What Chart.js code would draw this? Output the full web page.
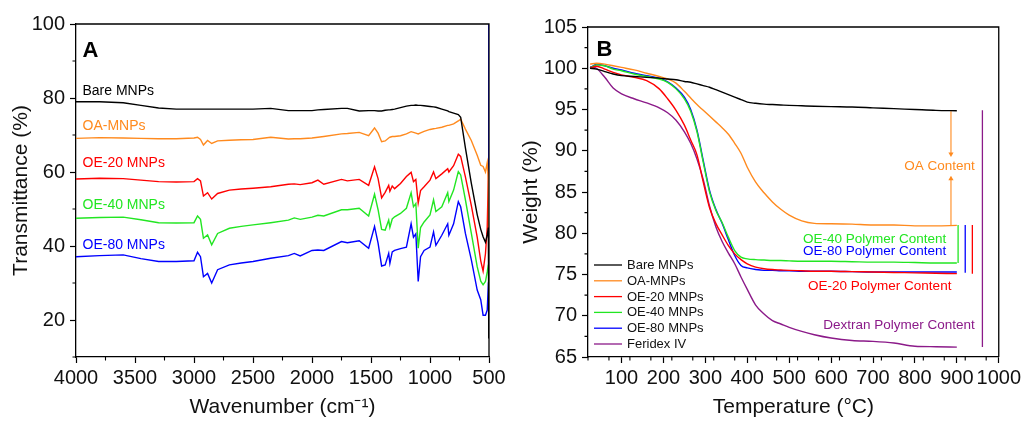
<!DOCTYPE html>
<html>
<head>
<meta charset="utf-8">
<script src="https://cdn.jsdelivr.net/npm/chart.js@4.4.1/dist/chart.umd.min.js"></script>
<style>
  html, body { margin: 0; padding: 0; background: #fff; }
  #wrap { position: relative; width: 1024px; height: 424px; }
  .panel { position: absolute; top: 0; width: 512px; height: 424px; }
</style>
</head>
<body>
<div id="wrap">
  <div class="panel" style="left:0"><canvas id="ftir" width="512" height="424"></canvas></div>
  <div class="panel" style="left:512px"><canvas id="tga" width="512" height="424"></canvas></div>
</div>
<script>
// ---- panel A : FTIR, transmittance (%) vs wavenumber (cm-1) ----
const wavenumbers = [4000, 3800, 3600, 3450, 3300, 3150, 3000, 2970, 2945, 2920, 2885, 2850, 2800, 2700, 2600,
  2500, 2350, 2200, 2150, 2100, 2000, 1950, 1900, 1750, 1700, 1600, 1520, 1470, 1440, 1410, 1380, 1350, 1340,
  1320, 1300, 1250, 1200, 1160, 1140, 1120, 1100, 1080, 1050, 1000, 970, 950, 900, 850, 840, 800, 760, 740,
  700, 650, 600, 570, 550, 530, 515, 505, 502];

const bareFTIR = [79.0, 79.0, 78.7, 78.0, 77.3, 77.0, 77.0, 77.0, 77.0, 77.0, 77.0, 77.0, 77.0, 77.0, 77.0,
  77.0, 77.2, 76.6, 76.6, 76.6, 76.6, 76.8, 76.9, 77.2, 77.2, 76.5, 76.6, 76.6, 76.5, 76.5, 76.7, 76.8, 76.8,
  76.9, 77.0, 77.4, 77.8, 78.0, 78.0, 78.1, 78.0, 78.0, 77.9, 77.7, 77.6, 77.5, 77.0, 76.5, 76.3, 75.9, 75.5, 74.8,
  66.5, 57.0, 48.5, 44.5, 42.5, 41.0, 43.0, 45.0, 15.0];
const oaFTIR = [69.1, 69.3, 69.2, 69.1, 69.0, 69.0, 69.2, 69.4, 68.8, 67.3, 68.5, 67.7, 68.4, 68.6, 68.7,
  68.8, 69.4, 68.9, 69.0, 69.0, 69.2, 69.4, 69.6, 70.3, 70.4, 70.7, 69.8, 71.9, 70.5, 68.2, 68.4, 69.2, 69.4,
  69.6, 69.6, 69.8, 70.3, 70.9, 70.7, 70.5, 70.3, 70.6, 71.0, 71.5, 71.7, 71.8, 72.1, 72.6, 72.6, 73.0, 73.8, 74.3,
  71.6, 68.5, 64.5, 61.8, 61.5, 60.0, 62.5, 58.0, 30.0];
const oe20FTIR = [58.1, 58.3, 58.2, 57.8, 57.4, 57.3, 57.4, 58.2, 57.6, 53.5, 54.4, 52.7, 54.2, 55.1, 55.4,
  55.6, 56.0, 56.7, 56.8, 56.6, 57.1, 57.8, 56.7, 58.0, 57.6, 58.0, 56.4, 61.4, 58.2, 53.0, 54.5, 56.4, 54.8,
  56.2, 55.5, 56.9, 58.8, 59.9, 57.4, 58.0, 51.6, 55.0, 56.0, 57.8, 60.0, 58.2, 59.5, 60.9, 60.0, 61.7, 64.8, 64.2,
  58.7, 51.0, 42.4, 36.0, 33.2, 37.9, 45.0, 60.0, 30.0];
const oe40FTIR = [47.5, 47.7, 47.8, 47.1, 46.3, 46.2, 46.3, 48.1, 47.2, 42.1, 43.0, 40.3, 43.4, 44.8, 45.3,
  45.7, 46.3, 47.0, 47.6, 47.2, 47.8, 48.3, 48.1, 49.8, 49.8, 50.2, 48.1, 54.0, 49.8, 44.5, 44.3, 47.0, 45.0,
  47.3, 47.9, 48.8, 50.2, 54.4, 50.6, 51.5, 39.4, 45.0, 46.5, 48.4, 52.5, 49.3, 50.6, 54.4, 52.0, 55.1, 60.1, 59.2,
  52.5, 43.5, 34.4, 30.5, 29.5, 30.4, 33.0, 35.0, 30.0];
const oe80FTIR = [37.1, 37.4, 37.6, 36.6, 35.8, 35.8, 36.0, 38.3, 37.1, 31.7, 32.6, 30.0, 33.6, 34.9, 35.4,
  35.8, 36.7, 37.4, 38.0, 37.3, 38.8, 38.9, 38.8, 41.2, 40.9, 41.4, 39.4, 45.3, 40.8, 34.6, 34.9, 38.0, 35.3,
  38.4, 38.8, 39.3, 39.7, 46.0, 42.4, 43.3, 30.4, 37.1, 38.8, 39.7, 43.8, 40.2, 42.9, 46.0, 42.9, 46.0, 52.0, 50.6,
  43.4, 36.3, 28.1, 25.5, 21.3, 21.3, 22.7, 30.0, 100.0];

// ---- panel B : TGA, weight (%) vs temperature (C) ----
const temperatures = [25, 40, 60, 80, 100, 130, 160, 190, 210, 230, 250, 265, 280, 295, 310, 325, 340, 355,
  370, 385, 400, 420, 440, 460, 480, 500, 530, 560, 600, 650, 700, 750, 800, 850, 900];

const bareTGA = [100.0, 99.9, 99.6, 99.3, 99.1, 99.0, 98.9, 98.8, 98.7, 98.6, 98.4, 98.3, 98.1, 97.9, 97.7,
  97.4, 97.1, 96.8, 96.5, 96.2, 95.9, 95.75, 95.65, 95.6, 95.55, 95.5, 95.45, 95.4, 95.35, 95.3, 95.2, 95.1,
  95.0, 94.9, 94.85];
const oaTGA = [100.5, 100.6, 100.5, 100.3, 100.1, 99.8, 99.4, 99.0, 98.7, 98.2, 97.2, 96.4, 95.6, 94.9, 94.2,
  93.5, 92.8, 92.0, 90.9, 89.7, 88.0, 86.2, 84.9, 83.8, 82.9, 82.2, 81.5, 81.2, 81.15, 81.1, 81.0, 81.0, 80.9,
  80.9, 80.95];
const oe20TGA = [100.0, 100.25, 99.9, 99.5, 99.2, 98.9, 98.5, 97.5, 96.3, 94.9, 93.1, 91.3, 89.5, 86.2, 83.1,
  81.2, 79.8, 78.5, 77.5, 76.8, 76.3, 75.9, 75.7, 75.6, 75.55, 75.5, 75.45, 75.4, 75.4, 75.35, 75.3, 75.25,
  75.2, 75.15, 75.1];
const oe40TGA = [100.0, 100.4, 100.3, 99.9, 99.7, 99.3, 99.0, 98.7, 98.3, 97.5, 96.3, 94.8, 92.3, 88.6, 85.0,
  82.8, 81.3, 79.5, 77.9, 77.1, 76.9, 76.8, 76.75, 76.7, 76.7, 76.65, 76.6, 76.6, 76.6, 76.55, 76.5, 76.5,
  76.45, 76.4, 76.4];
const oe80TGA = [100.0, 100.5, 100.3, 100.0, 99.8, 99.4, 99.1, 98.8, 98.35, 97.6, 96.5, 95.0, 92.5, 88.8, 85.2,
  82.9, 81.2, 79.2, 77.3, 76.1, 75.8, 75.6, 75.5, 75.5, 75.45, 75.45, 75.4, 75.4, 75.4, 75.35, 75.3, 75.3,
  75.3, 75.3, 75.3];
const feridexTGA = [100.2, 100.0, 98.9, 97.6, 96.9, 96.3, 95.8, 95.2, 94.6, 93.7, 92.3, 90.9, 89.0, 86.5, 83.3,
  80.8, 79.0, 77.6, 76.3, 74.7, 73.2, 71.3, 70.2, 69.4, 69.0, 68.6, 68.1, 67.7, 67.3, 67.0, 66.9, 66.7, 66.3,
  66.25, 66.2];

// content brackets on the right of panel B
const bracketTemps = [903, 920, 937, 961];
const bracketTop = [81.0, 81.0, 81.0, 94.9];
const bracketBottom = [76.4, 75.2, 75.1, 66.2];
const oaArrowTemp = 886;
const oaArrowFrom = [94.8, 81.0];
const oaArrowTo = [89.6, 86.6];

const sampleNames = ['Bare MNPs', 'OA-MNPs', 'OE-20 MNPs', 'OE-40 MNPs', 'OE-80 MNPs', 'Feridex IV'];
const colors = ['#000000', '#FF8A1E', '#FF0000', '#22E622', '#0000FF', '#8B1A89'];

Chart.defaults.font.family = '"Liberation Sans", Arial, sans-serif';
Chart.defaults.color = '#111';
Chart.defaults.animation = false;

// frame, minor ticks, inline labels and legend
const decor = {
  id: 'decor',
  afterDraw(chart, args, opts) {
    const ctx = chart.ctx, a = chart.chartArea;
    const xs = chart.scales.x, ys = chart.scales.y;
    ctx.save();
    ctx.strokeStyle = '#000';
    ctx.lineWidth = 1.3;
    ctx.beginPath();
    ctx.moveTo(a.left, a.top); ctx.lineTo(a.right, a.top); ctx.lineTo(a.right, a.bottom);
    ctx.stroke();

    ctx.lineWidth = 1.1;
    ctx.beginPath();
    for (let v = xs.min; v <= xs.max; v += opts.minorX) {
      if (v % opts.majorX === 0) continue;
      const px = xs.getPixelForValue(v);
      ctx.moveTo(px, a.bottom); ctx.lineTo(px, a.bottom + 3.5);
    }
    for (let v = ys.min; v <= ys.max; v += opts.minorY) {
      if (v % opts.majorY === 0) continue;
      const py = ys.getPixelForValue(v);
      ctx.moveTo(a.left, py); ctx.lineTo(a.left - 3.5, py);
    }
    ctx.stroke();

    ctx.textBaseline = 'middle';
    (opts.texts || []).forEach(t => {
      ctx.font = t.font;
      ctx.fillStyle = t.color;
      ctx.textAlign = t.align || 'left';
      ctx.fillText(t.text, xs.getPixelForValue(t.x), ys.getPixelForValue(t.y));
    });

    if (opts.legend) {
      const n = opts.legend;
      ctx.font = '13px "Liberation Sans", Arial, sans-serif';
      ctx.textAlign = 'left';
      for (let i = 0; i < n; i++) {
        const ds = chart.data.datasets[i];
        const y = a.bottom - 13 - (n - 1 - i) * 15.8;
        ctx.strokeStyle = ds.borderColor;
        ctx.lineWidth = 1.3;
        ctx.beginPath();
        ctx.moveTo(a.left + 6, y); ctx.lineTo(a.left + 34, y);
        ctx.stroke();
        ctx.fillStyle = '#111';
        ctx.fillText(ds.label, a.left + 39, y + 0.5);
      }
    }
    ctx.restore();
  }
};
Chart.register(decor);

function axis(extra) {
  return Object.assign({
    type: 'linear',
    grid: { drawOnChartArea: false, tickLength: 6, tickColor: '#000', tickWidth: 1.2 },
    border: { color: '#000', width: 1.3 }
  }, extra);
}
const plain = v => String(v);

const labelFont = '14px "Liberation Sans", Arial, sans-serif';
const noteFont = '13.5px "Liberation Sans", Arial, sans-serif';
const panelFont = 'bold 22px "Liberation Sans", Arial, sans-serif';

// ---- chart A ----
const ftirSeries = [bareFTIR, oaFTIR, oe20FTIR, oe40FTIR, oe80FTIR];
new Chart(document.getElementById('ftir'), {
  type: 'line',
  data: {
    datasets: ftirSeries.map((vals, i) => ({
      label: sampleNames[i],
      data: wavenumbers.map((w, j) => ({ x: w, y: vals[j] })),
      borderColor: colors[i],
      borderWidth: 1.4,
      pointRadius: 0,
      tension: 0,
      fill: false
    }))
  },
  options: {
    responsive: false,
    layout: { padding: { top: 24, right: 23, left: 0, bottom: 0 } },
    plugins: {
      legend: { display: false },
      tooltip: { enabled: false },
      decor: {
        minorX: 250, majorX: 500, minorY: 10, majorY: 20,
        texts: [
          { text: 'A', x: 3945, y: 92.6, color: '#000', font: panelFont },
          { text: sampleNames[0], x: 3945, y: 81.9, color: colors[0], font: labelFont },
          { text: sampleNames[1], x: 3945, y: 72.4, color: colors[1], font: labelFont },
          { text: sampleNames[2], x: 3945, y: 62.4, color: colors[2], font: labelFont },
          { text: sampleNames[3], x: 3945, y: 51.1, color: colors[3], font: labelFont },
          { text: sampleNames[4], x: 3945, y: 40.3, color: colors[4], font: labelFont }
        ]
      }
    },
    scales: {
      x: axis({
        reverse: true, min: 500, max: 4000,
        ticks: { stepSize: 500, autoSkip: false, maxRotation: 0, padding: 3, font: { size: 20 }, callback: plain },
        title: { display: true, text: 'Wavenumber (cm\u207B\u00B9)', font: { size: 21 }, padding: { top: 0, bottom: 4 } },
        afterFit(s) { s.height = 67; }
      }),
      y: axis({
        min: 10, max: 100,
        ticks: { stepSize: 20, includeBounds: false, autoSkip: false, padding: 5, font: { size: 20 }, callback: plain },
        title: { display: true, text: 'Transmittance (%)', font: { size: 21 }, padding: { top: 9, bottom: 0 } },
        afterFit(s) { s.width = 76; }
      })
    }
  }
});

// ---- chart B ----
const tgaSeries = [bareTGA, oaTGA, oe20TGA, oe40TGA, oe80TGA, feridexTGA];
const tgaDatasets = tgaSeries.map((vals, i) => ({
  label: sampleNames[i],
  data: temperatures.map((t, j) => ({ x: t, y: vals[j] })),
  borderColor: colors[i],
  borderWidth: 1.4,
  pointRadius: 0,
  cubicInterpolationMode: 'monotone',
  fill: false
}));
const bracketColors = [colors[3], colors[4], colors[2], colors[5]];
bracketTemps.forEach((t, i) => {
  tgaDatasets.push({
    label: 'bracket',
    data: [{ x: t, y: bracketTop[i] }, { x: t, y: bracketBottom[i] }],
    borderColor: bracketColors[i], borderWidth: 1.3, pointRadius: 0
  });
});
oaArrowFrom.forEach((from, i) => {
  tgaDatasets.push({
    label: 'arrow',
    data: [{ x: oaArrowTemp, y: from }, { x: oaArrowTemp, y: oaArrowTo[i] }],
    borderColor: colors[1], borderWidth: 1.1,
    pointStyle: 'triangle', pointRadius: [0, 3], pointRotation: i === 0 ? 180 : 0,
    pointBackgroundColor: colors[1], pointBorderColor: colors[1], pointBorderWidth: 0
  });
});

new Chart(document.getElementById('tga'), {
  type: 'line',
  data: { datasets: tgaDatasets },
  options: {
    responsive: false,
    layout: { padding: { top: 27, right: 25, left: 0, bottom: 0 } },
    plugins: {
      legend: { display: false },
      tooltip: { enabled: false },
      decor: {
        minorX: 50, majorX: 100, minorY: 2.5, majorY: 5,
        legend: 6,
        texts: [
          { text: 'B', x: 40, y: 102.2, color: '#000', font: panelFont },
          { text: 'OA Content', x: 943, y: 88.15, color: colors[1], font: noteFont, align: 'right' },
          { text: 'OE-40 Polymer Content', x: 875, y: 79.3, color: colors[3], font: noteFont, align: 'right' },
          { text: 'OE-80 Polymer Content', x: 875, y: 77.8, color: colors[4], font: noteFont, align: 'right' },
          { text: 'OE-20 Polymer Content', x: 887, y: 73.55, color: colors[2], font: noteFont, align: 'right' },
          { text: 'Dextran Polymer Content', x: 943, y: 68.8, color: colors[5], font: noteFont, align: 'right' }
        ]
      }
    },
    scales: {
      x: axis({
        min: 20, max: 1000,
        ticks: { stepSize: 100, includeBounds: false, autoSkip: false, maxRotation: 0, padding: 3, font: { size: 20 }, callback: plain },
        title: { display: true, text: 'Temperature (\u00B0C)', font: { size: 21 }, padding: { top: 0, bottom: 4 } },
        afterFit(s) { s.height = 67; }
      }),
      y: axis({
        min: 65, max: 105,
        ticks: { stepSize: 5, autoSkip: false, padding: 5, font: { size: 20 }, callback: plain },
        title: { display: true, text: 'Weight (%)', font: { size: 21 }, padding: { top: 7, bottom: 0 } },
        afterFit(s) { s.width = 76; }
      })
    }
  }
});
</script>
</body>
</html>
